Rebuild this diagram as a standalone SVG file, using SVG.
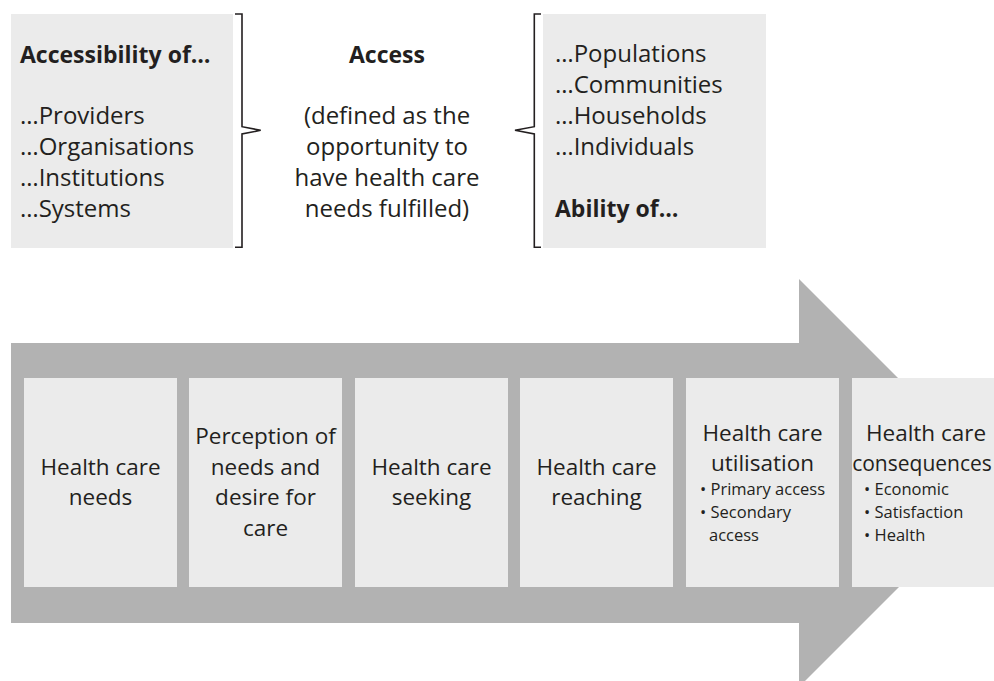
<svg xmlns="http://www.w3.org/2000/svg" width="994" height="681" viewBox="0 0 994 681">
<style>
text{font-family:"Open Sans","Noto Sans","Liberation Sans",sans-serif;fill:#231f20}
.t{font-size:24px}
.b{font-size:23px;font-weight:bold}
.m{font-size:22.5px;text-anchor:middle}
.s{font-size:16.5px}
.panel{fill:#ebebeb}
.box{fill:#ebebeb}
.brk{fill:none;stroke:#231f20;stroke-width:1.6}
</style>
<rect width="994" height="681" fill="#fff"/>
<g id="accessibility">
<rect class="panel" x="11" y="14" width="222" height="234"/>
<text class="b" x="20" y="63">Accessibility of…</text>
<text class="t" x="20" y="124">…Providers</text>
<text class="t" x="20" y="155">…Organisations</text>
<text class="t" x="20" y="186">…Institutions</text>
<text class="t" x="20" y="217">…Systems</text>
</g>
<g id="access">
<text class="b" x="387" y="63" text-anchor="middle">Access</text>
<text class="t" x="387" y="124" text-anchor="middle">(defined as the</text>
<text class="t" x="387" y="155" text-anchor="middle">opportunity to</text>
<text class="t" x="387" y="186" text-anchor="middle">have health care</text>
<text class="t" x="387" y="217" text-anchor="middle">needs fulfilled)</text>
</g>
<g id="ability">
<rect class="panel" x="543" y="14" width="223" height="234"/>
<text class="t" x="555" y="62">…Populations</text>
<text class="t" x="555" y="93">…Communities</text>
<text class="t" x="555" y="124">…Households</text>
<text class="t" x="555" y="155">…Individuals</text>
<text class="b" x="555" y="217">Ability of…</text>
</g>
<g id="connectors">
<path class="brk" d="M235,14 H242 V126.7 L260.7,130.3 L242,134 V247.3 H235"/>
<path class="brk" d="M541,14 H534.3 V126.7 L515,130.3 L534.3,134 V247.3 H541"/>
</g>
<g id="arrow">
<path fill="#b2b2b2" d="M11,343 H799 V279 L1003,483 L799,687 V623 H11 Z"/>
</g>
<g id="needs">
<rect class="box" x="24" y="378" width="153" height="209"/>
<text class="m" x="100.5" y="475">Health care</text>
<text class="m" x="100.5" y="505">needs</text>
</g>
<g id="perception">
<rect class="box" x="189" y="378" width="153" height="209"/>
<text class="m" x="265.5" y="444">Perception of</text>
<text class="m" x="265.5" y="475">needs and</text>
<text class="m" x="265.5" y="505">desire for</text>
<text class="m" x="265.5" y="536">care</text>
</g>
<g id="seeking">
<rect class="box" x="355" y="378" width="153" height="209"/>
<text class="m" x="431.5" y="475">Health care</text>
<text class="m" x="431.5" y="505">seeking</text>
</g>
<g id="reaching">
<rect class="box" x="520" y="378" width="153" height="209"/>
<text class="m" x="596.5" y="475">Health care</text>
<text class="m" x="596.5" y="505">reaching</text>
</g>
<g id="utilisation">
<rect class="box" x="686" y="378" width="153" height="209"/>
<text class="m" x="762.5" y="441">Health care</text>
<text class="m" x="762.5" y="471">utilisation</text>
<text class="s" x="700" y="495">• Primary access</text>
<text class="s" x="700" y="518">• Secondary</text>
<text class="s" x="709" y="541">access</text>
</g>
<g id="consequences">
<rect class="box" x="852" y="378" width="153" height="209"/>
<text class="m" x="926" y="441">Health care</text>
<text class="m" x="922" y="471" style="font-size:21px">consequences</text>
<text class="s" x="864" y="495">• Economic</text>
<text class="s" x="864" y="518">• Satisfaction</text>
<text class="s" x="864" y="541">• Health</text>
</g>
</svg>
